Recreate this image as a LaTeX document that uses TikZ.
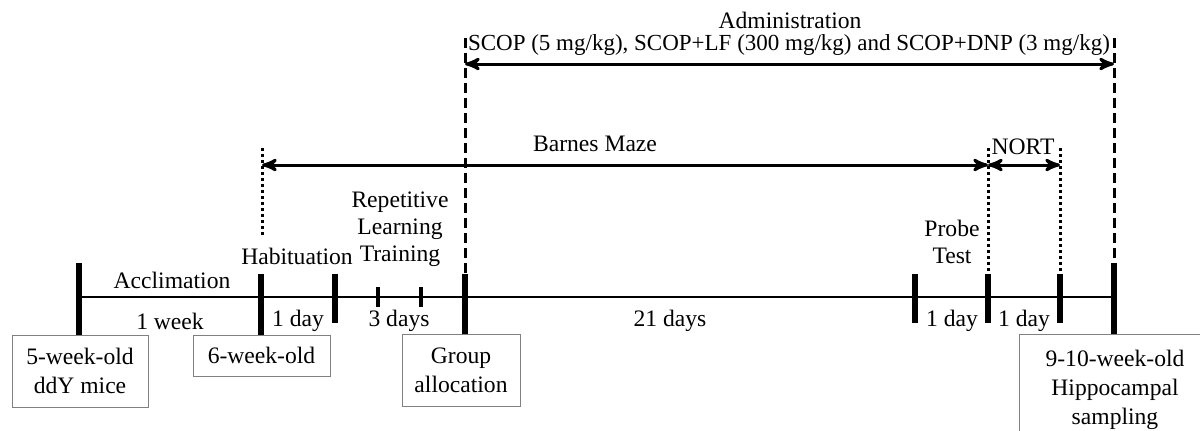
\documentclass[tikz,border=0pt]{standalone}
\usepackage{fontspec}
\setmainfont{Liberation Serif}
\usetikzlibrary{positioning,arrows}

\begin{document}
\begin{tikzpicture}[x=0.5pt,y=-0.5pt,font=\fontsize{11.8}{13.5}\selectfont,text centered]
            \tikzstyle{box}=[draw=gray,thin,align=center,inner sep=2pt,anchor=north,font=\fontsize{11.8}{14.5}\selectfont]
            \tikzstyle{lbl}=[align=center,inner sep=0pt]
            \tikzstyle{tick}=[line width=3.3pt]
            \tikzstyle{smalltick}=[line width=2pt]
            \tikzstyle{dashline}=[line width=1.5pt,dash pattern=on 5pt off 2.5pt]
            \tikzstyle{dotline}=[line width=1.5pt,dash pattern=on 1.5pt off 1.5pt]
            \tikzstyle{span}=[stealth'-stealth',line width=1.5pt]
            \clip (0,0) rectangle (1200,430);

            % time axis
            \coordinate (start) at (79,297);
            \coordinate (stop) at (1114,297);
            \draw[line width=0.6pt] (start) -- (stop);
            \foreach \x/\a/\b in {79/263/335,261/274/335,465/274/335,1114/263/335}
                \draw[tick] (\x,\a) -- (\x,\b);
            \foreach \x in {335,915,988,1060}
                \draw[tick] (\x,274) -- (\x,323);
            \foreach \x in {378,421}
                \draw[smalltick] (\x,287) -- (\x,307);

            % period markers
            \coordinate (adm-l) at (465,38);
            \coordinate (adm-lb) at (465,274);
            \coordinate (adm-r) at (1114,38);
            \coordinate (adm-rb) at (1114,263);
            \coordinate (bm-l) at (262,148);
            \coordinate (bm-lb) at (262,236);
            \coordinate (pt-t) at (988,148);
            \coordinate (pt-b) at (988,274);
            \coordinate (no-t) at (1060,148);
            \coordinate (no-b) at (1060,274);
            \draw[dashline] (adm-l) -- (adm-lb);
            \draw[dashline] (adm-r) -- (adm-rb);
            \draw[dotline] (bm-l) -- (bm-lb);
            \draw[dotline] (pt-t) -- (pt-b);
            \draw[dotline] (no-t) -- (no-b);

            \coordinate (adm1) at (465,64);
            \coordinate (adm2) at (1114,64);
            \coordinate (bm1) at (262,165);
            \coordinate (bm2) at (988,165);
            \coordinate (no1) at (988,165);
            \coordinate (no2) at (1060,165);
            \draw[span] (adm1) -- (adm2);
            \draw[span] (bm1) -- (bm2);
            \draw[span] (no1) -- (no2);

            \node[lbl] (adm) at (790,20) {Administration};
            \node[lbl,font=\fontsize{11.5}{13.5}\selectfont] (drugs) at (789,45) {SCOP (5 mg/kg), SCOP+LF (300 mg/kg) and SCOP+DNP (3 mg/kg)};
            \node[lbl] (barnes) at (595,144) {Barnes Maze};
            \node[lbl] (nort) at (1023,147) {NORT};

            % phases
            \node[lbl] (accl) at (172,280) {Acclimation};
            \node[lbl] (habit) at (297,256) {Habituation};
            \node[lbl] (rlt) at (400,229) {Repetitive\\Learning\\Training};
            \node[lbl] (probe) at (952,242) {Probe\\Test};

            % durations
            \node[lbl] (d1) at (170,321) {1 week};
            \node[lbl] (d2) at (298,321) {1 day};
            \node[lbl] (d3) at (399,321) {3 days};
            \node[lbl] (d4) at (670,321) {21 days};
            \node[lbl] (d5) at (952,321) {1 day};
            \node[lbl] (d6) at (1024,321) {1 day};

            % ages / events
            \node[box,minimum width=68pt,minimum height=36pt] (mice) at (80,335) {5-week-old\\ddY mice};
            \node[box,minimum width=68.5pt,minimum height=20.5pt] (age6) at (261.5,335) {6-week-old};
            \node[box,minimum width=59pt,minimum height=36pt] (group) at (461,334) {Group\\allocation};
            \node[box,minimum width=96pt,minimum height=55pt] (hippo) at (1115,334) {9-10-week-old\\Hippocampal\\sampling};
        \end{tikzpicture}
\end{document}
